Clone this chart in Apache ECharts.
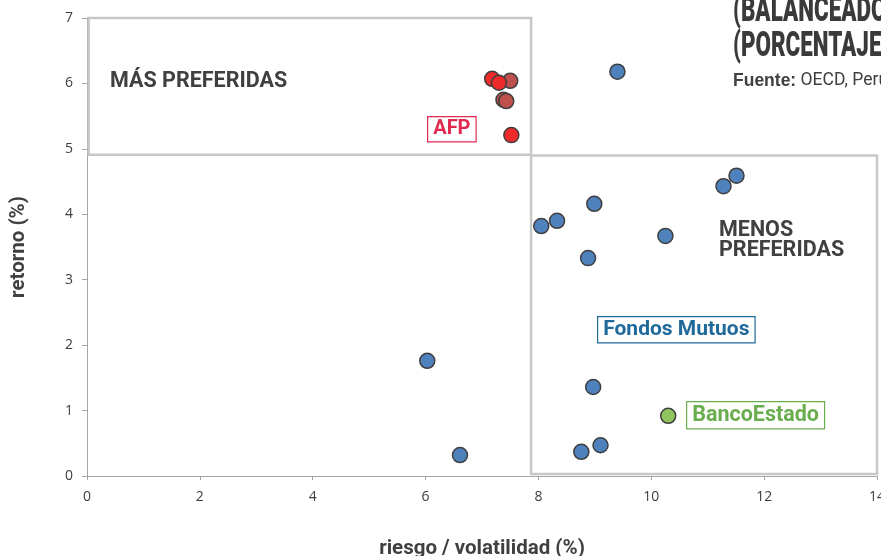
<!DOCTYPE html>
<html>
<head>
<meta charset="utf-8">
<script src="https://cdn.jsdelivr.net/npm/echarts@6/dist/echarts.min.js"></script>
<style>
  html, body { margin: 0; padding: 0; background: #fff; }
  #chart { width: 881px; height: 556px; }
</style>
</head>
<body>
<div id="chart"></div>
<script>
// riesgo (x) / retorno (y)
var fondosMutuos = [
    [9.40, 6.18], [11.28, 4.43], [11.51, 4.59], [8.99, 4.16], [8.05, 3.82],
    [8.33, 3.90], [10.25, 3.67], [8.88, 3.33], [6.03, 1.76], [8.97, 1.36],
    [6.61, 0.32], [8.76, 0.37], [9.10, 0.47]
];
var bancoEstado = [[10.30, 0.92]];
var afpOscuro = [[7.50, 6.04], [7.38, 5.75], [7.43, 5.73]];
var afpClaro = [[7.18, 6.07], [7.30, 6.01], [7.52, 5.21]];

var xTicks = [0, 2, 4, 6, 8, 10, 12, 14];
var yTicks = [0, 1, 2, 3, 4, 5, 6, 7];

// zonas
var zonaMas = [[0.03, 7], [7.87, 4.91]];
var zonaMenos = [[7.87, 4.9], [14, 0.03]];

var chart = echarts.init(document.getElementById('chart'));

var punto = function (color) {
    return {
        color: color,
        opacity: 1,
        borderColor: '#3f3f3f',
        borderWidth: 1.5
    };
};

var option = {
    animation: false,
    textStyle: { fontFamily: 'Roboto' },
    grid: { left: 87, right: 4, top: 18, bottom: 80, outerBoundsMode: 'none', containLabel: false },
    xAxis: {
        type: 'value',
        min: xTicks[0],
        max: xTicks[xTicks.length - 1],
        interval: 2,
        name: 'riesgo / volatilidad (%)',
        nameLocation: 'middle',
        nameGap: 62,
        nameTextStyle: { fontSize: 20.5, fontWeight: 'bold', color: '#404040' },
        axisLine: { lineStyle: { color: '#a6a6a6', width: 1 } },
        axisTick: { show: true, length: 4, lineStyle: { color: '#a6a6a6' } },
        axisLabel: { color: '#404040', fontSize: 14, fontFamily: 'Open Sans', margin: 14 },
        splitLine: { show: false }
    },
    yAxis: {
        type: 'value',
        min: yTicks[0],
        max: yTicks[yTicks.length - 1],
        interval: 1,
        name: 'retorno (%)',
        nameLocation: 'middle',
        nameGap: 58,
        nameTextStyle: { fontSize: 20.5, fontWeight: 'bold', color: '#404040' },
        axisLine: { show: true, lineStyle: { color: '#a6a6a6', width: 1 } },
        axisTick: { show: true, length: 5, lineStyle: { color: '#a6a6a6' } },
        axisLabel: { color: '#404040', fontSize: 14, fontFamily: 'Open Sans', margin: 14 },
        splitLine: { show: false }
    },
    series: [
        {
            name: 'zonas',
            type: 'scatter',
            data: [],
            markArea: {
                silent: true,
                itemStyle: { color: 'rgba(0,0,0,0)', borderColor: '#c8c8c8', borderWidth: 2.5 },
                data: [
                    [{ coord: zonaMas[0] }, { coord: zonaMas[1] }],
                    [{ coord: zonaMenos[0] }, { coord: zonaMenos[1] }]
                ]
            }
        },
        {
            name: 'Fondos Mutuos',
            type: 'scatter',
            symbolSize: 15,
            itemStyle: punto('#4f81bd'),
            data: fondosMutuos
        },
        {
            name: 'BancoEstado',
            type: 'scatter',
            symbolSize: 15,
            itemStyle: punto('#8fc45f'),
            data: bancoEstado
        },
        {
            name: 'AFP',
            type: 'scatter',
            symbolSize: 15,
            itemStyle: punto('#c0504d'),
            data: afpOscuro
        },
        {
            name: 'AFP ',
            type: 'scatter',
            symbolSize: 15,
            itemStyle: punto('#ee2a2a'),
            data: afpClaro
        }
    ],
    graphic: [
        {
            type: 'text', left: 110, top: 71,
            style: { text: 'MÁS PREFERIDAS', font: 'bold 21.5px Roboto', fill: '#404040' }
        },
        {
            type: 'text', left: 719, top: 220,
            style: { text: 'MENOS\nPREFERIDAS', font: 'bold 21.5px Roboto', fill: '#404040', lineHeight: 20 }
        },
        {
            type: 'text', left: 427, top: 116,
            style: {
                text: 'AFP', font: 'bold 20px Roboto', fill: '#e0294f',
                backgroundColor: '#fff', borderColor: '#e0294f', borderWidth: 1.2,
                padding: [2, 5, 2, 5]
            }
        },
        {
            type: 'text', left: 597, top: 316,
            style: {
                text: 'Fondos Mutuos', font: 'bold 21px Roboto', fill: '#1f6a99',
                backgroundColor: '#fff', borderColor: '#1f6a99', borderWidth: 1.2,
                padding: [2, 5, 2, 5]
            }
        },
        {
            type: 'text', left: 686, top: 401,
            style: {
                text: 'BancoEstado', font: 'bold 21.5px Roboto', fill: '#6aad4f',
                backgroundColor: '#fff', borderColor: '#6aad4f', borderWidth: 1.2,
                padding: [2, 5, 2, 5]
            }
        },
        {
            type: 'text', x: 733, y: -5, scaleX: 0.64,
            style: { text: '(BALANCEADOS)\n(PORCENTAJES)', font: '900 35px Roboto', fill: '#3a3a3a', lineHeight: 35 }
        },
        {
            type: 'text', x: 733, y: 72,
            style: {
                text: '{b|Fuente:} OECD, Perú',
                font: '17.5px Roboto', fill: '#404040',
                rich: { b: { fontWeight: 'bold', fontSize: 17.5, fill: '#404040' } }
            }
        }
    ]
};

chart.setOption(option);
window.addEventListener('resize', function () { chart.resize(); });
</script>
</body>
</html>
